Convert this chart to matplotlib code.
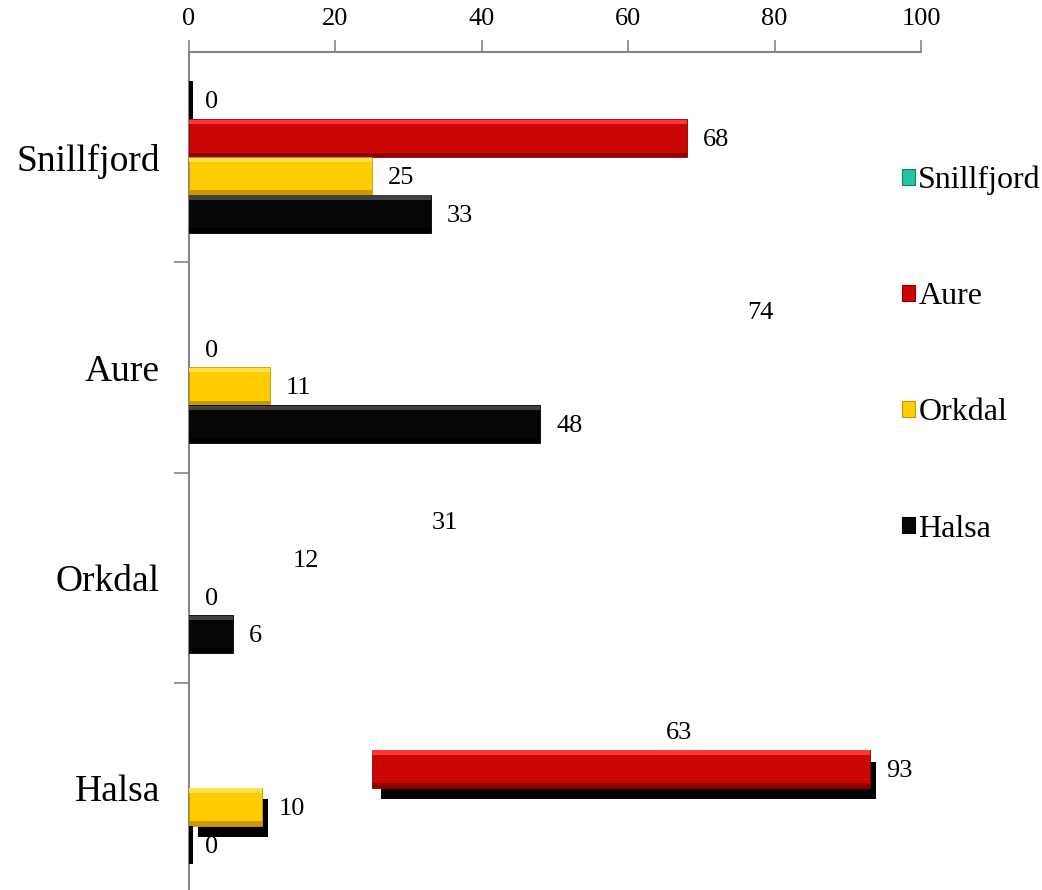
import numpy as np
import matplotlib.pyplot as plt
from matplotlib.patches import Patch

plt.rcParams['font.family'] = ['Liberation Serif', 'DejaVu Serif']

# categories (top to bottom) and the four series
categories = ['Snillfjord', 'Aure', 'Orkdal', 'Halsa']
series_names = ['Snillfjord', 'Aure', 'Orkdal', 'Halsa']
snillfjord = [0, 74, 31, 63]
aure = [68, 0, 12, 93]
orkdal = [25, 11, 0, 10]
halsa = [33, 48, 6, 0]

# which bars actually show up in the source picture
shown_snillfjord = [True, False, False, False]
shown_aure = [True, False, False, True]
shown_orkdal = [True, True, False, True]
shown_halsa = [True, True, True, True]

# the red Halsa bar starts late in the source
aure_start = [0, 0, 0, 25]

# groups that have a drop shadow under the bars
shadow_group = [False, False, False, True]

# colours: face, light top, dark bottom
styles = {
    'Snillfjord': ('#22C4A2', '#6EE8CC', '#118068'),
    'Aure': ('#CC0505', '#FF3535', '#8E0000'),
    'Orkdal': ('#FFCC00', '#FFE24A', '#C89800'),
    'Halsa': ('#060606', '#404040', '#000000'),
}

values = [snillfjord, aure, orkdal, halsa]
shown = [shown_snillfjord, shown_aure, shown_orkdal, shown_halsa]
starts = [[0, 0, 0, 0], aure_start, [0, 0, 0, 0], [0, 0, 0, 0]]

fig = plt.figure(figsize=(10.42, 8.9), dpi=100)
ax = fig.add_axes([189 / 1042, -3 / 890, (921 - 189) / 1042, (893 - 52) / 890])

bar_h = 0.18
offsets = [-0.27, -0.09, 0.09, 0.27]
y = np.arange(len(categories))


def bevel_bar(yc, left, width, face, light, dark):
    ax.barh(yc, width, bar_h, left=left, color=face, edgecolor=dark, linewidth=0.6, zorder=3)
    ax.barh(yc - bar_h / 2 + bar_h * 0.07, width, bar_h * 0.12, left=left,
            color=light, linewidth=0, zorder=4)
    ax.barh(yc + bar_h / 2 - bar_h * 0.06, width, bar_h * 0.12, left=left,
            color=dark, linewidth=0, zorder=4)


for s, name in enumerate(series_names):
    face, light, dark = styles[name]
    for g in range(len(categories)):
        val = values[s][g]
        yc = y[g] + offsets[s]
        left = starts[s][g]
        if shown[s][g]:
            if val == 0:
                # zero bar only leaves a thin dark sliver
                ax.barh(yc, 0.6, bar_h, left=0, color='#000000', linewidth=0, zorder=3)
            else:
                if shadow_group[g]:
                    ax.barh(yc + 0.055, val - left - 0.4, bar_h, left=left + 1.2,
                            color='#000000', linewidth=0, zorder=2)
                bevel_bar(yc, left, val - left, face, light, dark)
        ax.text(val + 2.2, yc + 0.01, str(val), ha='left', va='center',
                fontsize=19, color='black', zorder=5)

ax.set_xlim(0, 100)
ax.set_ylim(3.5, -0.5)

ax.xaxis.tick_top()
ax.set_xticks([0, 20, 40, 60, 80, 100])
ax.tick_params(axis='x', direction='out', length=9, width=1.2, color='#868686',
               labelsize=19, pad=7)

ax.set_yticks(y, categories)
ax.tick_params(axis='y', which='major', length=0, labelsize=27, pad=21)
ax.set_yticks([0.5, 1.5, 2.5], minor=True)
ax.tick_params(axis='y', which='minor', direction='out', length=11, width=1.2,
               color='#868686')

for side in ['right', 'bottom']:
    ax.spines[side].set_visible(False)
for side in ['top', 'left']:
    ax.spines[side].set_color('#868686')
    ax.spines[side].set_linewidth(1.5)

handles = [Patch(facecolor=styles[n][0], edgecolor=styles[n][2], linewidth=0.8)
           for n in series_names]
fig.legend(handles, series_names, loc='upper left', bbox_to_anchor=(0.866, 0.814),
           frameon=False, fontsize=23, handlelength=0.4, handleheight=0.4,
           handletextpad=0.1, labelspacing=2.73, borderpad=0, borderaxespad=0)

fig.savefig('out.png', dpi=100)
